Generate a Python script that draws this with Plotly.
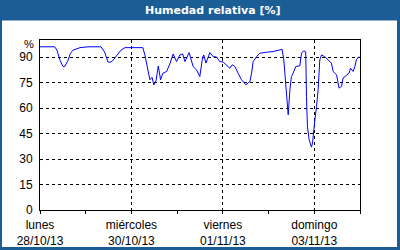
import pandas as pd
import plotly.graph_objects as go

# hours since 28/10/13 00:00
hours = [0, 7.7, 8.9, 10.5, 12.1, 13.1, 14.2, 14.7, 15.9, 17.3, 21.0, 25.2, 32.0,
         33.9, 35.7, 37.1, 38.3, 40.9, 42.5, 44.6, 54.0, 55.1, 56.8, 57.7, 58.8,
         59.8, 60.9, 62.1, 63.3, 64.5, 66.5, 68.2, 69.9, 71.7, 73.4, 74.9, 76.1,
         78.3, 80.4, 82.2, 83.9, 85.4, 86.0, 87.1, 89.2, 90.9, 92.7, 94.4, 96.2,
         97.9, 99.7, 100.9, 102.3, 104.0, 105.8, 108.1, 110.2, 111.1, 111.9, 113.7,
         115.4, 118.9, 122.4, 125.9, 127.1, 128.0, 129.1, 130.3, 131.2, 132.0,
         132.9, 134.3, 136.4, 137.3, 138.5, 139.5, 139.9, 140.4, 141.3, 142.5,
         143.1, 143.4, 144.3, 145.2, 146.0, 146.9, 147.8, 149.5, 151.2, 153.0,
         153.9, 155.7, 157.0, 158.3, 159.1, 160.9, 162.3, 163.0, 164.4, 165.3,
         166.1, 167.4]
humidity = [96, 96, 94, 88, 84.4, 84.5, 87, 88, 92, 94, 95.5, 96, 96,
            93, 87, 87, 88, 92, 94, 95.5, 95.5, 91, 82, 76.6, 78,
            73.6, 76, 84.7, 76.6, 80.5, 81.5, 86, 91.8, 87.3, 91.2, 91.8, 87.3,
            92.6, 84.4, 82.4, 78.5, 90, 91.2, 86.4, 92.6, 90.2, 90, 87.3, 87,
            85.4, 83.4, 85.4, 84.4, 80.5, 76.6, 73.6, 75.6, 80.5, 87.3, 90.2,
            92.2, 92.8, 93.2, 94.2, 94.5, 88.3, 70.7, 56, 70.7, 78.5,
            80.5, 84.4, 84.8, 92.2, 93.7, 93, 66.8, 49.2, 41.4, 37,
            39.5, 43.4, 53, 61, 70.7, 88.3, 91.2, 90.2, 88.3, 86.4,
            81.5, 79.5, 71.7, 72.7, 77.6, 79.5, 80.5, 83.4, 81.5, 84.4,
            88.3, 90.2]

start = pd.Timestamp("2013-10-28 00:00")
end = pd.Timestamp("2013-11-04 00:00")
times = start + pd.to_timedelta(hours, unit="h")

major_dates = ["2013-10-28", "2013-10-30", "2013-11-01", "2013-11-03"]
major_labels = ["lunes<br>28/10/13", "miércoles<br>30/10/13",
                "viernes<br>01/11/13", "domingo<br>03/11/13"]
y_ticks = [0, 15, 30, 45, 60, 75, 90]
title = "Humedad relativa [%]"

BLUE = "#1b5e96"
W, H = 400, 250
L, R, T, B = 40, 40, 40, 40
pw, ph = W - L - R, H - T - B


def px_x(px):
    return (px - L) / pw


def px_y(py):
    return (H - B - py) / ph


fig = go.Figure()
fig.add_trace(go.Scatter(x=times, y=humidity, mode="lines",
                         line=dict(color="#0000ff", width=1), hoverinfo="skip"))

font = dict(family="Liberation Sans", size=12, color="#000000")

fig.update_layout(
    width=W, height=H,
    margin=dict(l=L, r=R, t=T, b=B, autoexpand=False),
    paper_bgcolor=BLUE,
    plot_bgcolor="#ffffff",
    showlegend=False,
    font=font,
    xaxis=dict(
        range=[start, end],
        tickmode="array",
        tickvals=major_dates,
        ticktext=major_labels,
        ticks="outside", ticklen=3, tickcolor="#000000", tickwidth=1,
        ticklabelstandoff=1, automargin=False,
        minor=dict(dtick=86400000, ticks="outside", ticklen=3,
                   tickcolor="#000000", showgrid=False),
        showgrid=True, gridcolor="#000000", griddash="3px,3px", gridwidth=1,
        showline=True, linecolor="#000000", linewidth=1, mirror=True,
        zeroline=False, tickfont=font,
    ),
    yaxis=dict(
        range=[0, 100],
        tickmode="array",
        tickvals=y_ticks,
        ticks="", ticklabelstandoff=4, automargin=False,
        showgrid=True, gridcolor="#000000", griddash="3px,3px", gridwidth=1,
        showline=True, linecolor="#000000", linewidth=1, mirror=True,
        zeroline=False, tickfont=font,
    ),
    shapes=[
        dict(type="rect", xref="paper", yref="paper", layer="below",
             x0=px_x(2), x1=px_x(397), y0=px_y(247), y1=px_y(20.5),
             fillcolor="#ffffff", line=dict(width=0)),
    ],
    annotations=[
        dict(text="<b>" + title + "</b>", xref="paper", yref="paper",
             x=px_x(213), y=px_y(10.5), xanchor="center", yanchor="middle",
             showarrow=False,
             font=dict(family="DejaVu Sans", size=11, color="#ffffff")),
        dict(text="%", xref="paper", yref="paper",
             x=px_x(36), y=px_y(43.5), xanchor="right", yanchor="middle",
             showarrow=False,
             font=dict(family="Liberation Sans", size=11, color="#000000")),
    ],
)

fig.write_html("out.html")
